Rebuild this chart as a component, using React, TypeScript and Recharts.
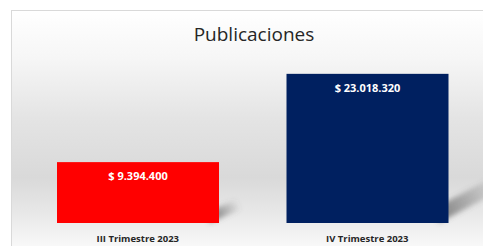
import React from 'react';
import { BarChart, Bar, XAxis, YAxis, Cell, LabelList } from 'recharts';

const periods = ['III Trimestre 2023', 'IV Trimestre 2023'];
const amounts = [9394400, 23018320];
const barColors = ['#ff0000', '#002060'];

const data = periods.map((p, i) => ({ periodo: p, monto: amounts[i] }));

const fmt = (v: number) => '$ ' + String(v).replace(/\B(?=(\d{3})+(?!\d))/g, '.');

// bar with a soft slanted shadow to its right, like the excel original
const ShadowBar = (props: any) => {
  const { x, y, width, height, index } = props;
  const fill = props.fill || barColors[index];
  const R = x + width;
  const B = y + height;
  const L = height * 0.38;
  const t = 8 + height * 0.06;
  const dy = L * 0.62;
  const gid = `shadowGrad-${index}`;
  const fid = `shadowBlur-${index}`;
  const pts = [
    [R - 10, B],
    [R + L, B - dy],
    [R + L, B - dy - t],
    [R - 10, B - t],
  ]
    .map((p) => p.join(','))
    .join(' ');
  return (
    <g>
      <defs>
        <linearGradient id={gid} gradientUnits="userSpaceOnUse" x1={R} y1={B} x2={R + L} y2={B - dy}>
          <stop offset="0%" stopColor="#5f5f5f" stopOpacity={0.7} />
          <stop offset="100%" stopColor="#5f5f5f" stopOpacity={0} />
        </linearGradient>
        <filter id={fid} x="-50%" y="-50%" width="200%" height="200%">
          <feGaussianBlur stdDeviation="2.5" />
        </filter>
      </defs>
      <polygon points={pts} fill={`url(#${gid})`} filter={`url(#${fid})`} />
      <rect x={x} y={y} width={width} height={height} fill={fill} />
    </g>
  );
};

const ValueLabel = (props: any) => {
  const { x, y, width, value } = props;
  return (
    <text
      x={x + width / 2}
      y={y + 18}
      textAnchor="middle"
      fill="#ffffff"
      fontFamily="'Open Sans', sans-serif"
      fontWeight={700}
      fontSize={11}
    >
      {fmt(value)}
    </text>
  );
};

const PeriodTick = (props: any) => {
  const { x, y, payload } = props;
  return (
    <text
      x={x}
      y={y + 18.5}
      textAnchor="middle"
      fill="#262626"
      fontFamily="'Open Sans', sans-serif"
      fontWeight={700}
      fontSize={9.5}
    >
      {payload.value}
    </text>
  );
};

export default function App() {
  return (
    <div
      style={{
        position: 'fixed',
        left: 11,
        top: 10,
        width: 480,
        height: 240,
        boxSizing: 'border-box',
        border: '1px solid #d9d9d9',
        overflow: 'hidden',
        background:
          'linear-gradient(to bottom, #ffffff 0%, #f6f6f6 20%, #e4e4e4 45%, #d9d9d9 70%, #e8e8e8 85%, #fafafa 100%)',
      }}
    >
      <div
        style={{
          position: 'absolute',
          left: 0,
          top: 10,
          width: 484,
          textAlign: 'center',
          fontFamily: "'Open Sans', sans-serif",
          fontSize: 19,
          color: '#262626',
        }}
      >
        Publicaciones
      </div>
      <BarChart
        width={472}
        height={234}
        data={data}
        margin={{ top: 50, right: 2, left: 11, bottom: 0 }}
      >
        <XAxis
          dataKey="periodo"
          height={22}
          axisLine={false}
          tickLine={false}
          tickSize={0}
          tickMargin={0}
          interval={0}
          tick={<PeriodTick />}
        />
        <YAxis hide domain={[0, 25000000]} />
        <Bar dataKey="monto" barSize={162} shape={<ShadowBar />} isAnimationActive={false}>
          {data.map((d, i) => (
            <Cell key={d.periodo} fill={barColors[i]} />
          ))}
          <LabelList dataKey="monto" content={<ValueLabel />} />
        </Bar>
      </BarChart>
    </div>
  );
}
